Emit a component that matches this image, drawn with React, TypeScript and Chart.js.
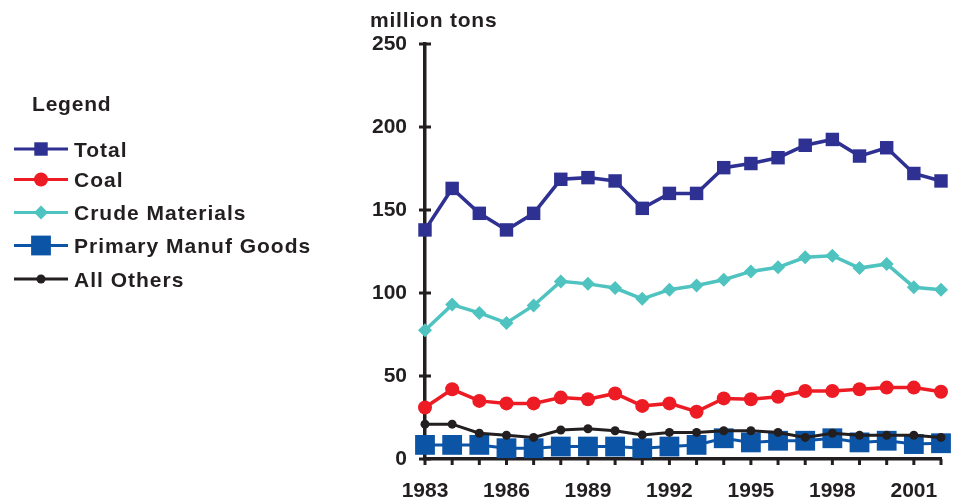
import React, { useEffect, useRef } from "react";
import { Chart, registerables } from "chart.js";

Chart.register(...registerables);

const years = [
  "1983", "1984", "1985", "1986", "1987", "1988", "1989", "1990", "1991", "1992",
  "1993", "1994", "1995", "1996", "1997", "1998", "1999", "2000", "2001", "2002",
];
const shownYearLabels = ["1983", "1986", "1989", "1992", "1995", "1998", "2001"];

const total = [138, 163, 148, 138, 148, 168.5, 169.5, 167.5, 151, 160, 160, 175.5, 178, 181.5, 189, 192.5, 182.5, 187.5, 172, 167.5];
const coal = [31, 42, 35, 33.5, 33.5, 37, 36, 39.5, 32, 33.5, 28.5, 36.5, 36, 37.5, 41, 41, 42, 43, 43, 40.5];
const crude = [77.5, 93, 88, 82, 92.5, 107, 105.5, 103, 96.5, 102, 104.5, 108, 113, 115.5, 121.5, 122.5, 115, 117.5, 103.5, 102];
const primaryManuf = [8.5, 8.5, 8.5, 6.5, 6.5, 7.5, 7.5, 7.5, 6.5, 7.5, 8.5, 12.5, 10, 11, 11, 12.5, 10, 11, 9, 9.5];
const allOthers = [21, 21, 15.5, 14.3, 13, 17.5, 18.2, 17, 14.5, 16, 16, 17, 17, 16, 13, 15.5, 14.3, 14.3, 14.3, 13];

const yTickValues = [0, 50, 100, 150, 200, 250];

const seriesNames = ["Total", "Coal", "Crude Materials", "Primary Manuf Goods", "All Others"];
const seriesColors = ["#2E3192", "#ED1C24", "#4EC3BF", "#0C54A5", "#231F20"];

const FONT = "'Liberation Sans', Arial, sans-serif";
const TEXT = "#231F20";

function drawMarker(ctx: CanvasRenderingContext2D, style: string, x: number, y: number, r: number) {
  ctx.beginPath();
  if (style === "rect") {
    const s = Math.SQRT1_2 * r;
    ctx.rect(x - s, y - s, 2 * s, 2 * s);
  } else if (style === "rectRot") {
    ctx.moveTo(x - r, y);
    ctx.lineTo(x, y - r);
    ctx.lineTo(x + r, y);
    ctx.lineTo(x, y + r);
    ctx.closePath();
  } else {
    ctx.arc(x, y, r, 0, Math.PI * 2);
  }
  ctx.fill();
}

const App = () => {
  const ref = useRef<HTMLCanvasElement | null>(null);

  useEffect(() => {
    document.body.style.margin = "0";
    const canvas = ref.current;
    if (!canvas) return;

    const styles = ["rect", "circle", "rectRot", "rect", "circle"];
    const radii = [9.5, 7, 7, 14, 4.5];
    const widths = [3.5, 3.5, 3.5, 3, 3];
    const orders = [4, 3, 2, 1, 0];
    const values = [total, coal, crude, primaryManuf, allOthers];

    const axisDeco = {
      id: "axisDeco",
      beforeDatasetsDraw(chart: any) {
        const { ctx, chartArea, scales } = chart;
        const x = scales.x;
        const y = scales.y;
        ctx.save();
        ctx.strokeStyle = TEXT;
        ctx.lineWidth = 3;
        y.ticks.forEach((_t: any, i: number) => {
          const py = y.getPixelForTick(i);
          ctx.beginPath();
          ctx.moveTo(chartArea.left - 6, py);
          ctx.lineTo(chartArea.left + 6, py);
          ctx.stroke();
        });
        x.ticks.forEach((_t: any, i: number) => {
          const px = x.getPixelForTick(i);
          ctx.beginPath();
          ctx.moveTo(px, chartArea.bottom);
          ctx.lineTo(px, chartArea.bottom + 6);
          ctx.stroke();
        });
        ctx.restore();
      },
      afterDraw(chart: any) {
        const { ctx } = chart;
        ctx.save();
        ctx.fillStyle = TEXT;
        ctx.textAlign = "left";
        ctx.textBaseline = "alphabetic";
        (ctx as any).letterSpacing = "0.8px";
        ctx.font = `bold 21px ${FONT}`;
        ctx.fillText("million tons", 370, 27);
        ctx.fillText("Legend", 32, 111);
        (ctx as any).letterSpacing = "1px";
        const lineYs = [149, 179.5, 212.5, 245.5, 279];
        seriesNames.forEach((name, i) => {
          const ly = lineYs[i];
          ctx.strokeStyle = seriesColors[i];
          ctx.fillStyle = seriesColors[i];
          ctx.lineWidth = 3;
          ctx.beginPath();
          ctx.moveTo(14, ly);
          ctx.lineTo(68, ly);
          ctx.stroke();
          drawMarker(ctx, styles[i], 41, ly, radii[i]);
          ctx.fillStyle = TEXT;
          ctx.fillText(name, 74, ly + 7.5);
        });
        ctx.restore();
      },
    };

    const chart = new Chart(canvas, {
      type: "line",
      data: {
        labels: years,
        datasets: seriesNames.map((name, i) => ({
          label: name,
          data: values[i],
          borderColor: seriesColors[i],
          backgroundColor: seriesColors[i],
          borderWidth: widths[i],
          pointStyle: styles[i] as any,
          pointRadius: radii[i],
          pointBorderWidth: 0,
          pointBackgroundColor: seriesColors[i],
          tension: 0,
          clip: false as any,
          order: orders[i],
        })),
      },
      options: {
        animation: false,
        responsive: false,
        devicePixelRatio: 1,
        layout: { padding: { left: 0, top: 44, right: 17, bottom: 0 } },
        plugins: {
          legend: { display: false },
          tooltip: { enabled: false },
          title: { display: false },
        },
        scales: {
          x: {
            type: "category",
            offset: false,
            grid: { display: false, drawTicks: false },
            border: { display: true, color: TEXT, width: 3.5 },
            ticks: {
              autoSkip: false,
              maxRotation: 0,
              minRotation: 0,
              padding: 20,
              color: TEXT,
              font: { family: FONT, size: 21, weight: "bold" },
              callback: (_v: any, i: number) => (shownYearLabels.includes(years[i]) ? years[i] : ""),
            },
            afterFit: (s: any) => {
              s.height = 45;
            },
          },
          y: {
            min: 0,
            max: 250,
            afterBuildTicks: (s: any) => {
              s.ticks = yTickValues.map((v) => ({ value: v }));
            },
            grid: { display: false, drawTicks: false },
            border: { display: true, color: TEXT, width: 3.5 },
            ticks: {
              padding: 18,
              color: TEXT,
              font: { family: FONT, size: 21, weight: "bold" },
            },
            afterFit: (s: any) => {
              s.width = 425;
            },
          },
        },
      },
      plugins: [axisDeco],
    });

    return () => chart.destroy();
  }, []);

  return (
    <div style={{ width: 961, height: 504, position: "relative", background: "#fff" }}>
      <canvas ref={ref} width={961} height={504} style={{ display: "block" }} />
    </div>
  );
};

export default App;
